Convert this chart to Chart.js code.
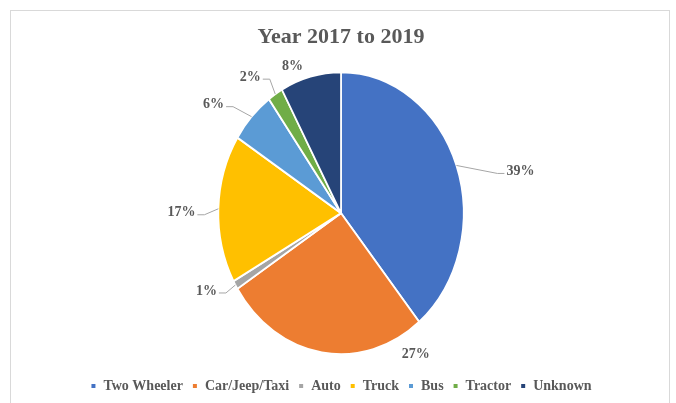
<!DOCTYPE html>
<html>
<head>
<meta charset="utf-8">
<script src="https://cdn.jsdelivr.net/npm/chart.js@4.4.1/dist/chart.umd.min.js"></script>
<style>
  html, body { margin: 0; padding: 0; background: #fff; }
  #wrap { position: relative; width: 676px; height: 403px; overflow: hidden; }
  #frame { position: absolute; left: 10px; top: 10px; width: 660px; height: 420px;
           border: 1px solid #d9d9d9; box-sizing: border-box; }
  #pie { position: absolute; left: 0; top: 0; }
</style>
</head>
<body>
<div id="wrap">
  <div id="frame"></div>
  <canvas id="pie" width="676" height="403"></canvas>
</div>
<script>
// data
const categories = ['Two Wheeler', 'Car/Jeep/Taxi', 'Auto', 'Truck', 'Bus', 'Tractor', 'Unknown'];
const shares = [39, 27, 1, 17, 6, 2, 8];
const colors = ['#4472C4', '#ED7D31', '#A5A5A5', '#FFC000', '#5B9BD5', '#70AD47', '#264478'];

// the original pie is a bit squashed sideways
const squashX = 0.87;
const pieRadius = 141;
const textGrey = '#595959';

// label offsets from the rim point of each slice (dx, dy), and whether a leader line is drawn
const labelPlace = [
  { dx: 64, dy: 6, leader: true },
  { dx: 94, dy: 2, leader: false },
  { dx: -29, dy: 6, leader: true },
  { dx: -37, dy: 4, leader: true },
  { dx: -38, dy: -12, leader: true },
  { dx: -25, dy: -17, leader: true },
  { dx: -18, dy: -10, leader: false },
];

const squash = {
  id: 'squash',
  beforeDatasetsDraw(chart) {
    const arc = chart.getDatasetMeta(0).data[0];
    const ctx = chart.ctx;
    ctx.save();
    ctx.translate(arc.x, arc.y);
    ctx.scale(squashX, 1);
    ctx.translate(-arc.x, -arc.y);
  },
  afterDatasetsDraw(chart) {
    chart.ctx.restore();
  }
};

const sliceLabels = {
  id: 'sliceLabels',
  afterDatasetsDraw(chart) {
    const ctx = chart.ctx;
    const total = shares.reduce((a, b) => a + b, 0);
    ctx.save();
    ctx.font = 'bold 14px "Liberation Serif"';
    ctx.textBaseline = 'middle';
    ctx.textAlign = 'center';
    chart.getDatasetMeta(0).data.forEach((arc, i) => {
      const mid = (arc.startAngle + arc.endAngle) / 2;
      const ex = arc.x + Math.cos(mid) * arc.outerRadius * squashX;
      const ey = arc.y + Math.sin(mid) * arc.outerRadius;
      const p = labelPlace[i];
      const lx = ex + p.dx, ly = ey + p.dy;
      const txt = Math.round(shares[i] / total * 100) + '%';
      const w = ctx.measureText(txt).width;
      if (p.leader) {
        const side = p.dx > 0 ? lx - w / 2 - 2 : lx + w / 2 + 2;
        const elbow = p.dx > 0 ? side - 7 : side + 7;
        ctx.strokeStyle = '#a6a6a6';
        ctx.lineWidth = 1;
        ctx.beginPath();
        ctx.moveTo(ex, ey);
        ctx.lineTo(elbow, ly + 2);
        ctx.lineTo(side, ly + 2);
        ctx.stroke();
      }
      ctx.fillStyle = textGrey;
      ctx.fillText(txt, lx, ly);
    });
    ctx.restore();
  }
};

const pieConfig = {
  type: 'pie',
  data: {
    labels: categories,
    datasets: [{
      data: shares,
      backgroundColor: colors,
      borderColor: '#fff',
      borderWidth: 2,
      radius: pieRadius,
    }],
  },
  options: {
    responsive: false,
    animation: false,
    events: [],
    layout: { padding: { left: 6, top: 0, right: 0, bottom: 0 } },
    plugins: {
      title: {
        display: true,
        text: 'Year 2017 to 2019',
        color: textGrey,
        font: { family: '"Liberation Serif"', size: 22, weight: 'bold' },
        padding: { top: 24, bottom: 6 },
      },
      legend: {
        position: 'bottom',
        labels: {
          color: textGrey,
          font: { family: '"Liberation Serif"', size: 14, weight: 'bold' },
          boxWidth: 6,
          boxHeight: 6,
          padding: 9,
        },
      },
      tooltip: { enabled: false },
    },
  },
  plugins: [squash, sliceLabels],
};

const pieCtx = document.getElementById('pie');
window.myPie = new Chart(pieCtx, pieConfig);
</script>
</body>
</html>
